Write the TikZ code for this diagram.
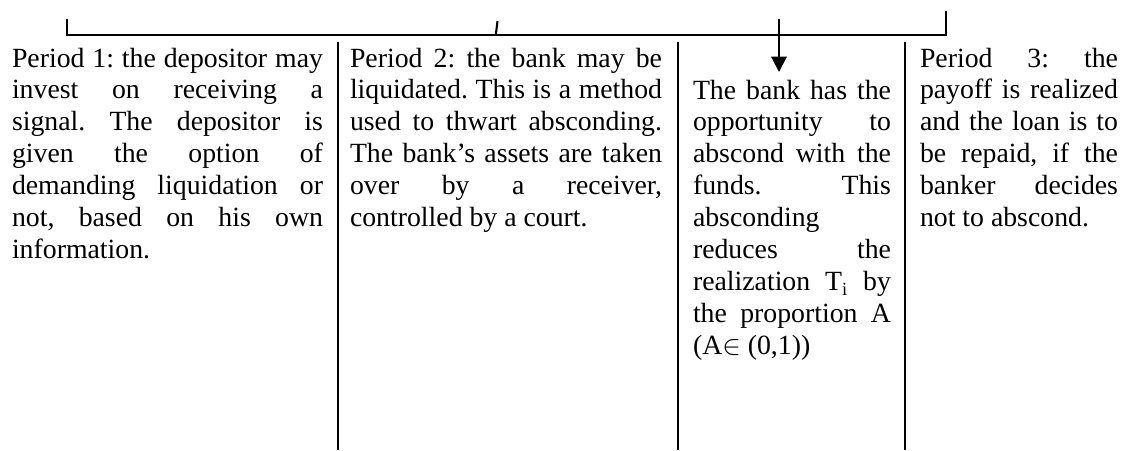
\documentclass[tikz,border=0pt]{standalone}
\usepackage{fontspec}
\setmainfont{Liberation Serif}
\usetikzlibrary{arrows.meta}
\newcommand{\jl}[2]{\makebox[#1][s]{#2}}
\newlength{\wa}\setlength{\wa}{134.35pt}
\newlength{\wb}\setlength{\wb}{134.8pt}
\newlength{\wc}\setlength{\wc}{85.54pt}
\newcommand{\fstrut}{\rule{0pt}{10pt}}
\frenchspacing
\begin{document}
\begin{tikzpicture}[x=0.432pt,y=-0.432pt,
  txt/.style={anchor=north west, inner sep=0pt, outer sep=0pt, align=left,
    font=\fontsize{12pt}{13.82pt}\selectfont\frenchspacing},
  tline/.style={line width=0.9pt, line cap=rect},
  sepline/.style={line width=0.9pt}]
\useasboundingbox (0,0) rectangle (1127,450);

% timeline
\coordinate (tl) at (67,20);
\coordinate (tlb) at (67,35);
\coordinate (trb) at (946,35);
\coordinate (tr) at (946,12.5);
\coordinate (mkt) at (497.5,21);
\coordinate (mkb) at (495.8,35);
\coordinate (at) at (779,19);
\coordinate (ab) at (779,72);
\draw[tline] (tl) -- (tlb) -- (trb) -- (tr);
\draw[line width=0.9pt] (mkt) -- (mkb);
\draw[line width=0.9pt, -{Triangle[width=6.6pt,length=6.6pt]}] (at) -- (ab);

% column separators
\coordinate (s1t) at (338,42); \coordinate (s1b) at (338,450);
\coordinate (s2t) at (678,42); \coordinate (s2b) at (678,450);
\coordinate (s3t) at (905,42); \coordinate (s3b) at (905,450);
\draw[sepline] (s1t) -- (s1b);
\draw[sepline] (s2t) -- (s2b);
\draw[sepline] (s3t) -- (s3b);

% column texts
\node[txt] (c1) at (12,43.85) {\fstrut\jl{\wa}{Period 1: the depositor may}\\
\jl{\wa}{invest on receiving a}\\
\jl{\wa}{signal. The depositor is}\\
\jl{\wa}{given the option of}\\
\jl{\wa}{demanding liquidation or}\\
\jl{\wa}{not, based on his own}\\
information.};

\node[txt] (c2) at (350,43.85) {\fstrut\jl{\wb}{Period 2: the bank may be}\\
\jl{\wb}{liquidated. This is a method}\\
\jl{\wb}{used to thwart absconding.}\\
\jl{\wb}{The bank’s assets are taken}\\
\jl{\wb}{over by a receiver,}\\
controlled by a court.};

\node[txt] (c3) at (693,75.85) {\fstrut\jl{\wc}{The bank has the}\\
\jl{\wc}{opportunity to}\\
\jl{\wc}{abscond with the}\\
\jl{\wc}{funds. This}\\
absconding\\
\jl{\wc}{reduces the}\\
\jl{\wc}{realization T\textsubscript{i} by}\\
\jl{\wc}{the proportion A}\\
(A$\in$ (0,1))};

\node[txt] (c4) at (920,43.85) {\fstrut\jl{\wc}{Period 3: the}\\
\jl{\wc}{payoff is realized}\\
\jl{\wc}{and the loan is to}\\
\jl{\wc}{be repaid, if the}\\
\jl{\wc}{banker decides}\\
not to abscond.};
\end{tikzpicture}
\end{document}
